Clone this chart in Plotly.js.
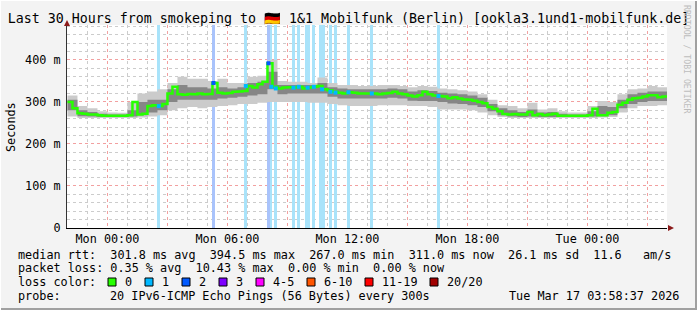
<!DOCTYPE html>
<html><head><meta charset="utf-8">
<script src="https://cdn.plot.ly/plotly-3.0.1.min.js"></script>
<style>html,body{margin:0;padding:0;background:#f3f3f3}#chart{width:697px;height:310px}</style>
</head><body><div id="chart"></div>
<script>
// ---- data ----
const rangeStart = '2026-03-15 21:58:37';
const rangeEnd = '2026-03-17 03:58:37';
const medianStart = '2026-03-15 22:00:00';
const medianStepMin = 15;
const medianRtt = [
 300,285,273,272,270,270,268,267,267,267,
 267,267,268,300,270,272,290,292,290,295,
 320,336,318,317,319,318,320,318,319,345,
 322,320,321,324,325,326,338,334,342,348,
 392,336,332,334,335,334,336,332,334,336,
 338,330,328,324,322,320,323,322,320,320,
 320,320,318,320,321,324,320,318,315,313,
 316,324,318,315,314,313,309,311,308,306,
 305,303,300,297,288,284,278,271,270,271,
 270,270,276,268,271,268,270,272,267,267,
 267,267,267,267,268,284,268,268,274,276,
 293,298,305,309,310,313,316,316,311,313,
 311];
const smokeStart = '2026-03-15 22:00:00';
const smokeStepMin = 30;
const smokeMax = [
 315,290,285,278,275,274,300,320,325,330,
 345,360,355,355,350,355,345,345,360,362,
 400,350,348,348,345,358,345,340,340,338,
 338,340,340,338,335,338,336,332,330,328,
 325,318,305,292,290,285,298,282,285,278,
 275,275,290,302,300,318,330,332,338,335,
 332];
const smokeMin = [
 265,262,262,262,262,262,262,263,265,268,
 280,285,288,285,288,290,292,295,295,298,
 300,300,300,300,298,298,295,292,290,290,
 290,292,292,292,290,290,288,282,282,282,
 280,275,268,264,262,262,262,262,262,262,
 262,262,262,263,264,275,285,290,290,292,
 292];
const smokeQHi = [
 305,280,276,272,270,270,280,300,305,305,
 330,340,335,335,332,335,332,335,345,348,
 372,340,340,340,340,345,335,332,330,330,
 330,330,332,330,325,328,326,322,320,318,
 315,310,295,285,280,276,282,275,276,272,
 270,270,278,290,288,305,318,322,325,325,
 322];
const smokeQLo = [
 280,266,265,264,264,264,265,268,275,280,
 300,305,305,305,305,308,310,312,315,318,
 330,318,320,320,320,320,312,308,308,308,
 308,308,310,308,303,302,302,300,296,295,
 292,288,278,268,265,264,265,264,264,264,
 264,264,265,266,268,285,295,300,302,302,
 302];
const lossStart = ['2026-03-16 02:29','2026-03-16 05:13','2026-03-16 06:50','2026-03-16 07:58','2026-03-16 08:08','2026-03-16 08:20','2026-03-16 09:13','2026-03-16 09:29','2026-03-16 09:53','2026-03-16 10:14','2026-03-16 10:34','2026-03-16 11:04','2026-03-16 11:19','2026-03-16 11:59','2026-03-16 13:08','2026-03-16 16:29'];
const lossMinutes = [10,10,10,10,7,10,10,10,15,10,20,10,10,8,10,8];
const lossLevel = [1,2,1,2,1,1,1,1,1,1,1,1,1,1,1,1];
const xTickVals = ['2026-03-16 00:00','2026-03-16 03:00','2026-03-16 06:00','2026-03-16 09:00','2026-03-16 12:00','2026-03-16 15:00','2026-03-16 18:00','2026-03-16 21:00','2026-03-17 00:00','2026-03-17 03:00'];
const xTickText = ['Mon 00:00','','Mon 06:00','','Mon 12:00','','Mon 18:00','','Tue 00:00',''];
const yTickVals = [0,100,200,300,400];
const yTickText = ['0','100 m','200 m','300 m','400 m'];
const lossLabels = ['0','1','2','3','4-5','6-10','11-19','20/20'];
const lossColors = ['#26ff00','#00b8ff','#0059ff','#7e00ff','#ff00ff','#ff5500','#ff0000','#a10000'];
const lossBgColors = ['#ffffff','#a9e3fa','#a9c3fb','#c9a8fb','#fba8fb','#fbc0a8','#fba8a8','#e0a8a8'];
const titleText = 'Last 30 Hours from smokeping to 🇩🇪 1&1 Mobilfunk (Berlin) [ookla3.1und1-mobilfunk.de]';
const statsLine1 = 'median rtt:  301.8 ms avg  394.5 ms max  267.0 ms min  311.0 ms now  26.1 ms sd  11.6   am/s';
const statsLine2 = 'packet loss: 0.35 % avg  10.43 % max  0.00 % min  0.00 % now';
const probeLabel = 'probe:';
const probeText = '20 IPv6-ICMP Echo Pings (56 Bytes) every 300s';
const stampText = 'Tue Mar 17 03:58:37 2026';
const yMax = 483;

// ---- helpers ----
function toMs(s){const m=s.match(/(\d+)-(\d+)-(\d+) (\d+):(\d+)(?::(\d+))?/);return Date.UTC(+m[1],+m[2]-1,+m[3],+m[4],+m[5],+(m[6]||0));}
function fmt(ms){const d=new Date(ms);const p=n=>String(n).padStart(2,'0');return d.getUTCFullYear()+'-'+p(d.getUTCMonth()+1)+'-'+p(d.getUTCDate())+' '+p(d.getUTCHours())+':'+p(d.getUTCMinutes())+':'+p(d.getUTCSeconds());}
function series(start, stepMin, n){const b=toMs(start);return Array.from({length:n},(_,i)=>fmt(b+i*stepMin*60000));}
const nb = s => s.replace(/ /g,'\u00A0');
const L=67,T=25,W=600,H=203;
const px = x => (x-L)/W;
const py = y => (T+H-y)/H;
const MONO = 'DejaVu Sans Mono';

const tMed = series(medianStart, medianStepMin, medianRtt.length);
const tSmoke = series(smokeStart, smokeStepMin, smokeMax.length);
const lossCenter = lossStart.map((s,i)=>fmt(toMs(s)+lossMinutes[i]*30000));
const lossMedian = lossStart.map((s,i)=>{const idx=Math.round((toMs(s)+lossMinutes[i]*30000-toMs(medianStart))/(medianStepMin*60000));return medianRtt[Math.max(0,Math.min(medianRtt.length-1,idx))];});

const traces = [
 {type:'bar', x:lossCenter, y:lossCenter.map(()=>yMax), base:0, width:lossMinutes.map(m=>m*60000),
  marker:{color:lossLevel.map(l=>lossBgColors[l]), line:{width:0}}, hoverinfo:'skip'},
 {x:tSmoke, y:smokeMin, mode:'lines', line:{width:0, shape:'hv'}, hoverinfo:'skip'},
 {x:tSmoke, y:smokeMax, mode:'lines', line:{width:0, shape:'hv'}, fill:'tonexty', fillcolor:'#cbcbcb', hoverinfo:'skip'},
 {x:tSmoke, y:smokeQLo, mode:'lines', line:{width:0, shape:'hv'}, hoverinfo:'skip'},
 {x:tSmoke, y:smokeQHi, mode:'lines', line:{width:0, shape:'hv'}, fill:'tonexty', fillcolor:'#868686', hoverinfo:'skip'},
 {x:tMed, y:medianRtt, mode:'lines', line:{color:'#26ff00', width:2.5, shape:'hv'}, hoverinfo:'skip'},
 {x:lossCenter, y:lossMedian, mode:'markers', marker:{symbol:'square', size:4, color:lossLevel.map(l=>lossColors[l])}, hoverinfo:'skip'}
];

const annotations = [
 {text:'Seconds', textangle:-90, x:px(11), y:py(127), xref:'paper', yref:'paper', showarrow:false, xanchor:'center', yanchor:'middle', font:{family:MONO,size:11.8,color:'#000'}},
 {text:'RRDTOOL / TOBI OETIKER', textangle:90, x:px(687), y:py(59), xref:'paper', yref:'paper', showarrow:false, xanchor:'center', yanchor:'middle', font:{family:MONO,size:8.2,color:'#bdbdbd'}},
 {text:nb(statsLine1), x:px(16), y:py(255), xref:'paper', yref:'paper', showarrow:false, xanchor:'left', yanchor:'middle', font:{family:MONO,size:11.8,color:'#000'}},
 {text:nb(statsLine2), x:px(16), y:py(268), xref:'paper', yref:'paper', showarrow:false, xanchor:'left', yanchor:'middle', font:{family:MONO,size:11.8,color:'#000'}},
 {text:nb('loss color:'), x:px(16), y:py(282), xref:'paper', yref:'paper', showarrow:false, xanchor:'left', yanchor:'middle', font:{family:MONO,size:11.8,color:'#000'}},
 {text:probeLabel, x:px(16), y:py(296), xref:'paper', yref:'paper', showarrow:false, xanchor:'left', yanchor:'middle', font:{family:MONO,size:11.8,color:'#000'}},
 {text:nb(probeText), x:px(108), y:py(296), xref:'paper', yref:'paper', showarrow:false, xanchor:'left', yanchor:'middle', font:{family:MONO,size:11.8,color:'#000'}},
 {text:nb(stampText), x:px(681), y:py(296), xref:'paper', yref:'paper', showarrow:false, xanchor:'right', yanchor:'middle', font:{family:MONO,size:11.8,color:'#000'}}
];
const shapes = [];
let bx = 108;
lossLabels.forEach((lab,i)=>{
  shapes.push({type:'rect', xref:'paper', yref:'paper', x0:px(bx), x1:px(bx+8), y0:py(286), y1:py(278), fillcolor:lossColors[i], line:{color:'#000', width:1}});
  annotations.push({text:lab, x:px(bx+15), y:py(282), xref:'paper', yref:'paper', showarrow:false, xanchor:'left', yanchor:'middle', font:{family:MONO,size:11.8,color:'#000'}});
  bx += 30 + 7*lab.length;
});
// axis arrows
shapes.push({type:'path', xref:'paper', yref:'paper', path:`M ${px(64)} ${py(26)} L ${px(70)} ${py(26)} L ${px(67)} ${py(20)} Z`, fillcolor:'#8b1a1a', line:{width:0}});
shapes.push({type:'path', xref:'paper', yref:'paper', path:`M ${px(668)} ${py(225)} L ${px(668)} ${py(231)} L ${px(674)} ${py(228)} Z`, fillcolor:'#8b1a1a', line:{width:0}});
// frame
shapes.push({type:'line', xref:'paper', yref:'paper', x0:px(696), x1:px(696), y0:py(0), y1:py(310), line:{color:'#a0a0a0', width:2}});
shapes.push({type:'line', xref:'paper', yref:'paper', x0:px(0), x1:px(697), y0:py(309), y1:py(309), line:{color:'#a0a0a0', width:2}});
shapes.push({type:'line', xref:'paper', yref:'paper', x0:px(0), x1:px(697), y0:py(0.5), y1:py(0.5), line:{color:'#ffffff', width:1}});
shapes.push({type:'line', xref:'paper', yref:'paper', x0:px(0.5), x1:px(0.5), y0:py(0), y1:py(310), line:{color:'#ffffff', width:1}});

const layout = {
  width:697, height:310, margin:{l:67, r:30, t:25, b:82},
  paper_bgcolor:'#f3f3f3', plot_bgcolor:'#ffffff', showlegend:false,
  font:{family:MONO, size:11.8, color:'#000'},
  title:{text:titleText, x:0.5, xanchor:'center', y:1-18/310, yanchor:'middle', yref:'container', font:{family:MONO, size:13.3, color:'#000'}},
  xaxis:{type:'date', range:[rangeStart, rangeEnd], tickmode:'array', tickvals:xTickVals, ticktext:xTickText,
    showgrid:true, gridcolor:'#f2a0a0', griddash:'dot', gridwidth:1, zeroline:false,
    minor:{showgrid:true, dtick:3600000, tick0:'2026-03-16 00:00', gridcolor:'#cccccc', griddash:'dot', gridwidth:1},
    showline:true, linecolor:'#000', linewidth:1, ticks:'', tickfont:{family:MONO,size:11.8,color:'#000'}, fixedrange:true},
  yaxis:{range:[0,yMax], tickmode:'array', tickvals:yTickVals, ticktext:yTickText,
    showgrid:true, gridcolor:'#f2a0a0', griddash:'dot', gridwidth:1, zeroline:false,
    minor:{showgrid:true, dtick:20, tick0:0, gridcolor:'#cccccc', griddash:'dot', gridwidth:1},
    showline:true, linecolor:'#333', linewidth:1, ticks:'', ticklabelstandoff:3, tickfont:{family:MONO,size:11.8,color:'#000'}, fixedrange:true},
  bargap:0, annotations, shapes
};
Plotly.newPlot('chart', traces, layout, {staticPlot:true, displayModeBar:false});
</script></body></html>
